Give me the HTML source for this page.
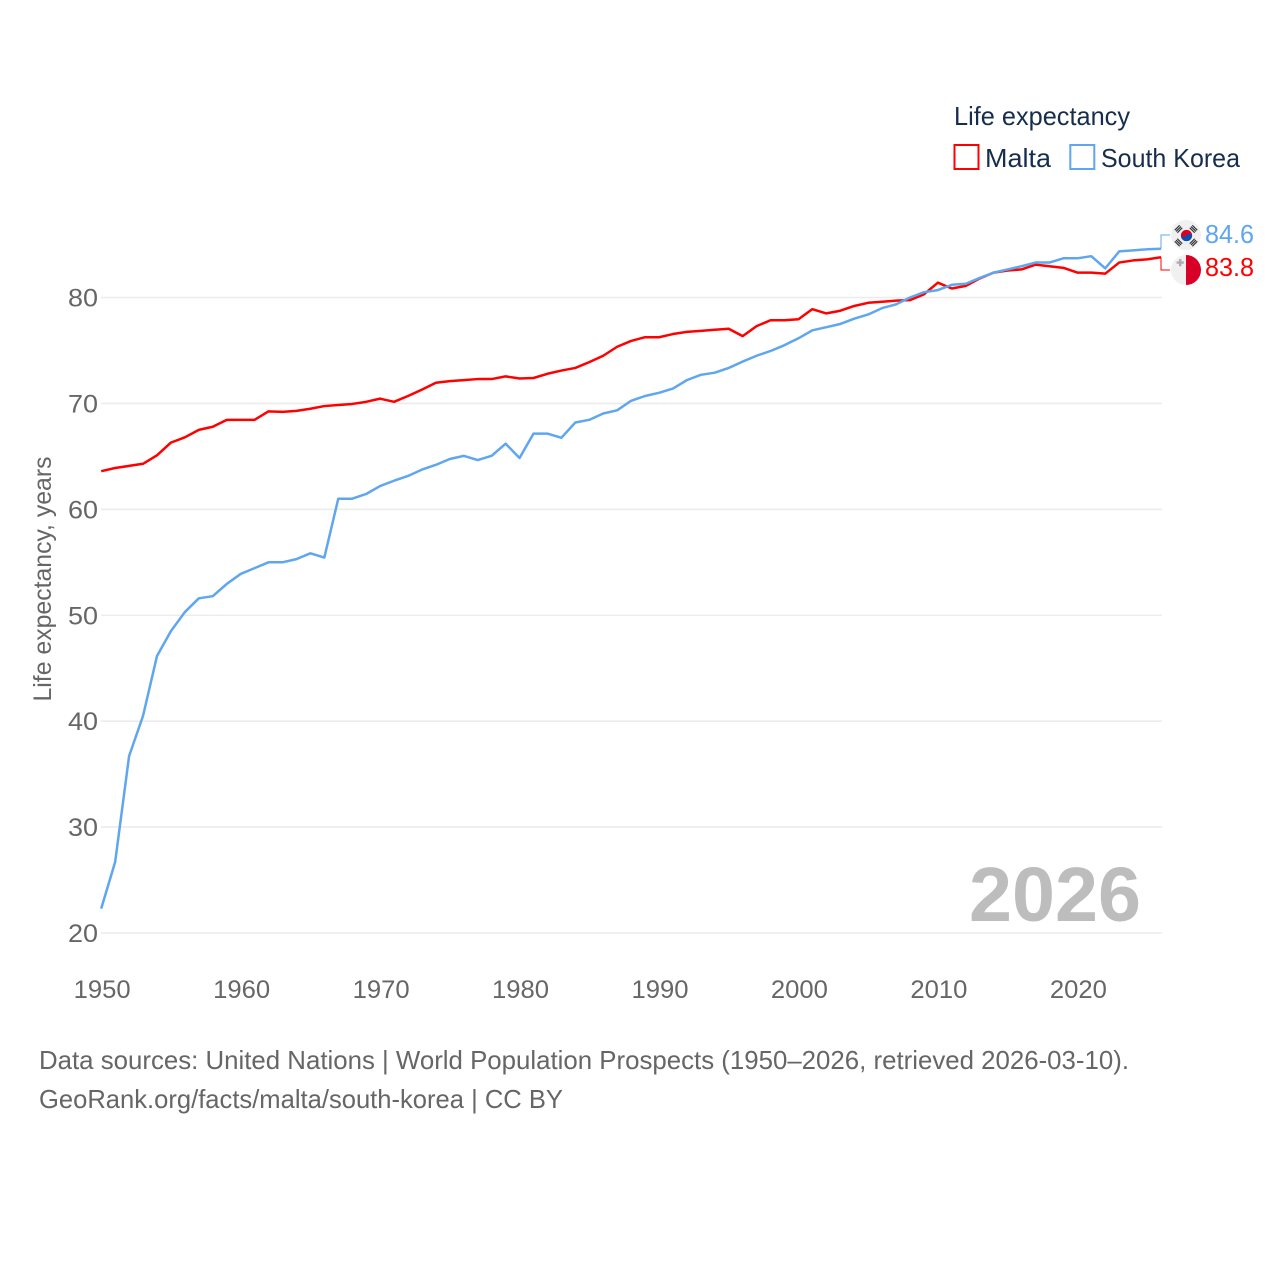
<!DOCTYPE html>
<html lang="en">
<head>
<meta charset="utf-8">
<title>Life expectancy: Malta and South Korea</title>
<style>
html,body{margin:0;padding:0;background:#fff;}
body{width:1280px;height:1280px;overflow:hidden;}
svg{display:block;font-family:"Liberation Sans",sans-serif;}
</style>
</head>
<body>
<svg id="chart" xmlns="http://www.w3.org/2000/svg" width="1280" height="1280" viewBox="0 0 1280 1280">
  <rect x="0" y="0" width="1280" height="1280" fill="#ffffff"/>
  <g id="grid"></g>
  <g id="yticks"></g>
  <g id="xticks"></g>
  <text transform="translate(51,579) rotate(-90)" text-anchor="middle" font-size="25" fill="#666666" textLength="245" lengthAdjust="spacingAndGlyphs">Life expectancy, years</text>
  <text x="969" y="921" font-size="77" font-weight="700" fill="#bdbdbd" textLength="172" lengthAdjust="spacingAndGlyphs">2026</text>
  <g id="series"></g>

  <g>
    <text x="954" y="125" font-size="26" fill="#172d4d" textLength="176" lengthAdjust="spacingAndGlyphs">Life expectancy</text>
    <g>
      <rect x="954.5" y="145" width="24" height="24" fill="none" stroke="#ff0000" stroke-width="2"/>
      <text x="985" y="167" font-size="26" fill="#172d4d" textLength="66" lengthAdjust="spacingAndGlyphs">Malta</text>
    </g>
    <g>
      <rect x="1070.3" y="145" width="24" height="24" fill="none" stroke="#5fa6ef" stroke-width="2"/>
      <text x="1101" y="167" font-size="26" fill="#172d4d" textLength="139" lengthAdjust="spacingAndGlyphs">South Korea</text>
    </g>
  </g>

  <g>
    <circle cx="1186" cy="235" r="15" fill="#f0f0f0"/>
    <g fill="#333333">
      <g transform="translate(1178.5,229) rotate(-45)"><rect x="-3.5" y="-2.4" width="7" height="1.2"/><rect x="-3.5" y="-0.6" width="7" height="1.2"/><rect x="-3.5" y="1.2" width="7" height="1.2"/></g>
      <g transform="translate(1193.5,229) rotate(45)"><rect x="-3.5" y="-2.4" width="7" height="1.2"/><rect x="-3.5" y="-0.6" width="7" height="1.2"/><rect x="-3.5" y="1.2" width="7" height="1.2"/></g>
      <g transform="translate(1178.5,242.5) rotate(45)"><rect x="-3.5" y="-2.4" width="7" height="1.2"/><rect x="-3.5" y="-0.6" width="7" height="1.2"/><rect x="-3.5" y="1.2" width="7" height="1.2"/></g>
      <g transform="translate(1193.5,242.5) rotate(-45)"><rect x="-3.5" y="-2.4" width="7" height="1.2"/><rect x="-3.5" y="-0.6" width="7" height="1.2"/><rect x="-3.5" y="1.2" width="7" height="1.2"/></g>
    </g>
    <circle cx="1186.5" cy="235.5" r="5.6" fill="#d80027"/>
    <path d="M1180.9 235.5 a5.6 5.6 0 0 0 11.2 0 a2.8 1.4 0 0 0 -5.6 0 a2.8 1.4 0 0 1 -5.6 0z" fill="#0052b4"/>
  </g>
  <g>
    <circle cx="1186" cy="270" r="15" fill="#f0f0f0"/>
    <path d="M1186 255 a15 15 0 0 1 0 30z" fill="#d80027"/>
    <path d="M1179 259 h2.4 v2.4 h2.4 v2.4 h-2.4 v2.4 h-2.4 v-2.4 h-2.4 v-2.4 h2.4z" fill="#acabb1"/>
  </g>
  <g id="endlabels"></g>

  <g>
    <text x="39" y="1069" font-size="26" fill="#666666" textLength="1090" lengthAdjust="spacingAndGlyphs">Data sources: United Nations | World Population Prospects (1950–2026, retrieved 2026-03-10).</text>
    <text x="39" y="1108" font-size="26" fill="#666666" textLength="524" lengthAdjust="spacingAndGlyphs">GeoRank.org/facts/malta/south-korea | CC BY</text>
  </g>
</svg>
<script>
const years = [1950,1951,1952,1953,1954,1955,1956,1957,1958,1959,
  1960,1961,1962,1963,1964,1965,1966,1967,1968,1969,
  1970,1971,1972,1973,1974,1975,1976,1977,1978,1979,
  1980,1981,1982,1983,1984,1985,1986,1987,1988,1989,
  1990,1991,1992,1993,1994,1995,1996,1997,1998,1999,
  2000,2001,2002,2003,2004,2005,2006,2007,2008,2009,
  2010,2011,2012,2013,2014,2015,2016,2017,2018,2019,
  2020,2021,2022,2023,2024,2025,2026];
const maltaValues = [63.6,63.9,64.1,64.3,65.1,66.3,66.8,67.5,67.8,68.45,
  68.45,68.45,69.25,69.2,69.3,69.5,69.75,69.85,69.95,70.15,
  70.45,70.15,70.7,71.3,71.95,72.1,72.2,72.3,72.3,72.55,
  72.35,72.4,72.8,73.1,73.35,73.9,74.5,75.35,75.9,76.25,
  76.25,76.55,76.75,76.85,76.95,77.05,76.35,77.3,77.85,77.85,
  77.95,78.9,78.5,78.75,79.2,79.5,79.6,79.7,79.75,80.3,
  81.4,80.85,81.1,81.8,82.35,82.55,82.65,83.1,82.95,82.8,
  82.35,82.35,82.25,83.3,83.5,83.6,83.8];
const koreaValues = [22.3,26.7,36.7,40.5,46.15,48.5,50.3,51.6,51.8,52.95,
  53.9,54.45,55,55,55.3,55.85,55.45,61,61,61.45,
  62.2,62.7,63.15,63.75,64.2,64.75,65.05,64.65,65.05,66.2,
  64.85,67.15,67.15,66.75,68.2,68.45,69.05,69.35,70.25,70.7,
  71,71.4,72.2,72.7,72.9,73.35,73.95,74.5,74.95,75.5,
  76.15,76.9,77.2,77.5,78,78.4,79,79.35,80,80.5,
  80.7,81.2,81.3,81.85,82.35,82.65,82.95,83.3,83.3,83.7,
  83.7,83.9,82.75,84.35,84.45,84.55,84.6];
const yTickValues = [20,30,40,50,60,70,80];
const xTickValues = [1950,1960,1970,1980,1990,2000,2010,2020];

const NS = 'http://www.w3.org/2000/svg';
const xAxis = function (year) { return 101.2 + (year - 1950) * (1161 - 101.2) / 76; };
const yAxis = function (value) { return 933 - (value - 20) * (933 - 297.5) / 60; };

function make(tag, parent) {
  const el = document.createElementNS(NS, tag);
  parent.appendChild(el);
  return el;
}

const grid = document.getElementById('grid');
const yticks = document.getElementById('yticks');
const xticks = document.getElementById('xticks');
const series = document.getElementById('series');
const endlabels = document.getElementById('endlabels');

yTickValues.forEach(function (v) {
  const line = make('line', grid);
  
  
  line.setAttribute('x1', 101);
  line.setAttribute('x2', 1162);
  line.setAttribute('y1', yAxis(v));
  line.setAttribute('y2', yAxis(v));
  line.setAttribute('stroke', '#ececec');
  line.setAttribute('stroke-width', '1.6');

  const t = make('text', yticks);
  
  
  t.setAttribute('x', 68);
  t.setAttribute('y', yAxis(v) + 9);
  t.setAttribute('font-size', '25');
  t.setAttribute('fill', '#666666');
  t.setAttribute('textLength', '30');
  t.setAttribute('lengthAdjust', 'spacingAndGlyphs');
  t.textContent = String(v);
});

xTickValues.forEach(function (yr) {
  const t = make('text', xticks);
  
  
  t.setAttribute('x', xAxis(yr) + 1);
  t.setAttribute('y', 998);
  t.setAttribute('text-anchor', 'middle');
  t.setAttribute('font-size', '25');
  t.setAttribute('fill', '#666666');
  t.setAttribute('textLength', '57');
  t.setAttribute('lengthAdjust', 'spacingAndGlyphs');
  t.textContent = String(yr);
});

function pathFor(values) {
  return values.map(function (v, i) {
    return (i ? 'L' : 'M') + xAxis(years[i]).toFixed(2) + ' ' + yAxis(v).toFixed(2);
  }).join(' ');
}

const maltaLine = make('path', series);


maltaLine.setAttribute('d', pathFor(maltaValues));
maltaLine.setAttribute('fill', 'none');
maltaLine.setAttribute('stroke', '#ff0000');
maltaLine.setAttribute('stroke-width', '2.5');
maltaLine.setAttribute('stroke-linejoin', 'round');

const koreaLine = make('path', series);


koreaLine.setAttribute('d', pathFor(koreaValues));
koreaLine.setAttribute('fill', 'none');
koreaLine.setAttribute('stroke', '#5fa6ef');
koreaLine.setAttribute('stroke-width', '2.5');
koreaLine.setAttribute('stroke-linejoin', 'round');

const lastYear = years[years.length - 1];
const lastMalta = maltaValues[maltaValues.length - 1];
const lastKorea = koreaValues[koreaValues.length - 1];

const koreaLeader = make('path', endlabels);


koreaLeader.setAttribute('d', 'M' + xAxis(lastYear) + ' ' + yAxis(lastKorea) + ' V235 H1170');
koreaLeader.setAttribute('fill', 'none');
koreaLeader.setAttribute('stroke', '#5fa6ef');
koreaLeader.setAttribute('stroke-width', '1');

const maltaLeader = make('path', endlabels);


maltaLeader.setAttribute('d', 'M' + xAxis(lastYear) + ' ' + yAxis(lastMalta) + ' V270 H1170');
maltaLeader.setAttribute('fill', 'none');
maltaLeader.setAttribute('stroke', '#ff0000');
maltaLeader.setAttribute('stroke-width', '1');

const koreaEnd = make('text', endlabels);


koreaEnd.setAttribute('x', 1205);
koreaEnd.setAttribute('y', 243);
koreaEnd.setAttribute('font-size', '26');
koreaEnd.setAttribute('fill', '#5fa6ef');
koreaEnd.setAttribute('textLength', '49');
koreaEnd.setAttribute('lengthAdjust', 'spacingAndGlyphs');
koreaEnd.textContent = lastKorea.toFixed(1);

const maltaEnd = make('text', endlabels);


maltaEnd.setAttribute('x', 1205);
maltaEnd.setAttribute('y', 276);
maltaEnd.setAttribute('font-size', '26');
maltaEnd.setAttribute('fill', '#ff0000');
maltaEnd.setAttribute('textLength', '49');
maltaEnd.setAttribute('lengthAdjust', 'spacingAndGlyphs');
maltaEnd.textContent = lastMalta.toFixed(1);
</script>
</body>
</html>
